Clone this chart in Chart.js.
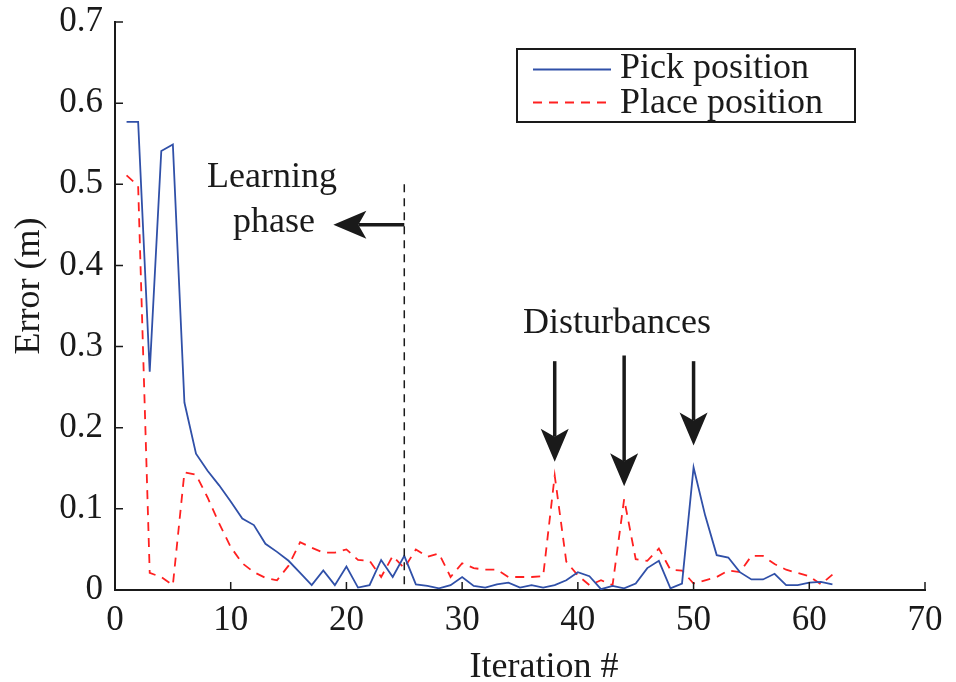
<!DOCTYPE html>
<html>
<head>
<meta charset="utf-8">
<script src="https://cdn.jsdelivr.net/npm/chart.js@4.4.1/dist/chart.umd.min.js"></script>
<style>
  body { margin: 0; background: #fff; }
  #wrap { width: 956px; height: 682px; }
</style>
</head>
<body>
<div id="wrap"><canvas id="errChart"></canvas></div>
<script>
const iterations = [1, 2, 3, 4, 5, 6, 7, 8, 9, 10, 11, 12, 13, 14, 15, 16, 17, 18, 19, 20,
    21, 22, 23, 24, 25, 26, 27, 28, 29, 30, 31, 32, 33, 34, 35, 36, 37, 38, 39, 40,
    41, 42, 43, 44, 45, 46, 47, 48, 49, 50, 51, 52, 53, 54, 55, 56, 57, 58, 59, 60, 61, 62];

const pickError = [0.577, 0.577, 0.269, 0.541, 0.549, 0.231, 0.168, 0.147, 0.129, 0.109,
    0.088, 0.080, 0.057, 0.047, 0.036, 0.021, 0.006, 0.024, 0.006, 0.029,
    0.003, 0.006, 0.037, 0.016, 0.042, 0.007, 0.005, 0.002, 0.006, 0.016,
    0.005, 0.003, 0.007, 0.009, 0.003, 0.006, 0.003, 0.006, 0.012, 0.022,
    0.017, 0.001, 0.005, 0.002, 0.008, 0.027, 0.036, 0.002, 0.008, 0.151,
    0.092, 0.043, 0.040, 0.022, 0.013, 0.013, 0.020, 0.006, 0.006, 0.009, 0.010, 0.007];

const placeError = [0.511, 0.498, 0.021, 0.016, 0.006, 0.145, 0.142, 0.114, 0.082, 0.053,
    0.033, 0.022, 0.015, 0.012, 0.030, 0.059, 0.052, 0.046, 0.046, 0.050,
    0.037, 0.036, 0.016, 0.042, 0.027, 0.050, 0.041, 0.045, 0.016, 0.033,
    0.027, 0.025, 0.025, 0.016, 0.016, 0.016, 0.017, 0.141, 0.035, 0.018,
    0.006, 0.012, 0.006, 0.112, 0.038, 0.036, 0.051, 0.025, 0.024, 0.008,
    0.012, 0.016, 0.024, 0.022, 0.042, 0.042, 0.032, 0.025, 0.021, 0.017, 0.007, 0.019];

const xTicks = [0, 10, 20, 30, 40, 50, 60, 70];
const yTicks = [0, 0.1, 0.2, 0.3, 0.4, 0.5, 0.6, 0.7];

const seriesNames = ['Pick position', 'Place position'];
const disturbanceIters = [38, 44, 50];

const SERIF = '"Liberation Serif", "Times New Roman", serif';
const BLUE = '#3050a8';
const RED = '#ff2020';
const RED_DASH = [9, 7];

// arrow: tip at (x2,y2), pixel coords
function drawArrow(ctx, x1, y1, x2, y2) {
    const ang = Math.atan2(y2 - y1, x2 - x1);
    const headLen = 33, notch = 25, half = 14;
    const cos = Math.cos(ang), sin = Math.sin(ang);
    ctx.save();
    ctx.strokeStyle = '#1a1a1a';
    ctx.fillStyle = '#1a1a1a';
    ctx.lineWidth = 3.5;
    ctx.beginPath();
    ctx.moveTo(x1, y1);
    ctx.lineTo(x2 - notch * cos, y2 - notch * sin);
    ctx.stroke();
    ctx.beginPath();
    ctx.moveTo(x2, y2);
    ctx.lineTo(x2 - headLen * cos - half * sin, y2 - headLen * sin + half * cos);
    ctx.lineTo(x2 - notch * cos, y2 - notch * sin);
    ctx.lineTo(x2 - headLen * cos + half * sin, y2 - headLen * sin - half * cos);
    ctx.closePath();
    ctx.fill();
    ctx.restore();
}

const extras = {
    id: 'extras',
    afterDatasetsDraw(chart) {
        const ctx = chart.ctx;
        const xs = chart.scales.x, ys = chart.scales.y;
        const area = chart.chartArea;
        const px = v => xs.getPixelForValue(v);
        const py = v => ys.getPixelForValue(v);

        ctx.save();
        // inward tick marks
        ctx.strokeStyle = '#1a1a1a';
        ctx.lineWidth = 1.5;
        ctx.beginPath();
        xTicks.forEach(v => { ctx.moveTo(px(v), area.bottom); ctx.lineTo(px(v), area.bottom - 8); });
        yTicks.forEach(v => { ctx.moveTo(area.left, py(v)); ctx.lineTo(area.left + 8, py(v)); });
        ctx.stroke();

        // end of learning phase
        ctx.setLineDash([8, 6]);
        ctx.beginPath();
        ctx.moveTo(px(25), py(0.5));
        ctx.lineTo(px(25), py(0));
        ctx.stroke();
        ctx.setLineDash([]);

        drawArrow(ctx, px(25), py(0.45), px(18.87), py(0.45));
        drawArrow(ctx, px(disturbanceIters[0]), py(0.282), px(disturbanceIters[0]), py(0.158));
        drawArrow(ctx, px(disturbanceIters[1]), py(0.289), px(disturbanceIters[1]), py(0.128));
        drawArrow(ctx, px(disturbanceIters[2]), py(0.282), px(disturbanceIters[2]), py(0.178));

        ctx.fillStyle = '#1a1a1a';
        ctx.font = '36px ' + SERIF;
        ctx.textAlign = 'center';
        ctx.textBaseline = 'alphabetic';
        ctx.fillText('Learning', px(13.57), py(0.4966));
        ctx.fillText('phase', px(13.74), py(0.441));
        ctx.fillText('Disturbances', px(43.39), py(0.3163));

        // axis titles
        ctx.fillText('Iteration #', 544, 677);
        ctx.save();
        ctx.translate(39, 286);
        ctx.rotate(-Math.PI / 2);
        ctx.fillText('Error (m)', 0, 0);
        ctx.restore();

        // legend box
        const lx = 517, ly = 49, lw = 338, lh = 73;
        ctx.fillStyle = '#fff';
        ctx.fillRect(lx, ly, lw, lh);
        ctx.strokeStyle = '#1a1a1a';
        ctx.lineWidth = 2;
        ctx.strokeRect(lx, ly, lw, lh);
        ctx.strokeStyle = BLUE;
        ctx.beginPath();
        ctx.moveTo(533, 69.5); ctx.lineTo(611, 69.5);
        ctx.stroke();
        ctx.strokeStyle = RED;
        ctx.setLineDash(RED_DASH);
        ctx.beginPath();
        ctx.moveTo(533, 102.5); ctx.lineTo(611, 102.5);
        ctx.stroke();
        ctx.setLineDash([]);
        ctx.fillStyle = '#1a1a1a';
        ctx.textAlign = 'left';
        ctx.fillText(seriesNames[0], 620, 78);
        ctx.fillText(seriesNames[1], 620, 113);
        ctx.restore();
    }
};

new Chart(document.getElementById('errChart'), {
    type: 'line',
    data: {
        datasets: [{
            label: seriesNames[0],
            data: iterations.map((it, i) => ({ x: it, y: pickError[i] })),
            borderColor: BLUE,
            borderWidth: 1.8,
            pointRadius: 0,
            tension: 0
        }, {
            label: seriesNames[1],
            data: iterations.map((it, i) => ({ x: it, y: placeError[i] })),
            borderColor: RED,
            borderWidth: 1.8,
            borderDash: RED_DASH,
            pointRadius: 0,
            tension: 0
        }]
    },
    options: {
        responsive: true,
        maintainAspectRatio: false,
        animation: false,
        layout: { padding: { top: 22, right: 31, left: 0, bottom: 0 } },
        plugins: {
            legend: { display: false },
            tooltip: { enabled: false }
        },
        scales: {
            x: {
                type: 'linear',
                min: 0,
                max: 70,
                afterBuildTicks: s => { s.ticks = xTicks.map(v => ({ value: v })); },
                afterFit: s => { s.height = 92; s.paddingLeft = 0; s.paddingRight = 0; },
                grid: { display: false, drawTicks: false },
                border: { display: true, color: '#1a1a1a', width: 2 },
                ticks: {
                    color: '#1a1a1a',
                    font: { family: SERIF, size: 35 },
                    padding: 10,
                    maxRotation: 0
                }
            },
            y: {
                min: 0,
                max: 0.7,
                afterBuildTicks: s => { s.ticks = yTicks.map(v => ({ value: v })); },
                afterFit: s => { s.width = 115; s.paddingTop = 0; s.paddingBottom = 0; },
                grid: { display: false, drawTicks: false },
                border: { display: true, color: '#1a1a1a', width: 2 },
                ticks: {
                    color: '#1a1a1a',
                    font: { family: SERIF, size: 35 },
                    padding: 12,
                    callback: v => v === 0 ? '0' : v.toFixed(1)
                }
            }
        }
    },
    plugins: [extras]
});
</script>
</body>
</html>
